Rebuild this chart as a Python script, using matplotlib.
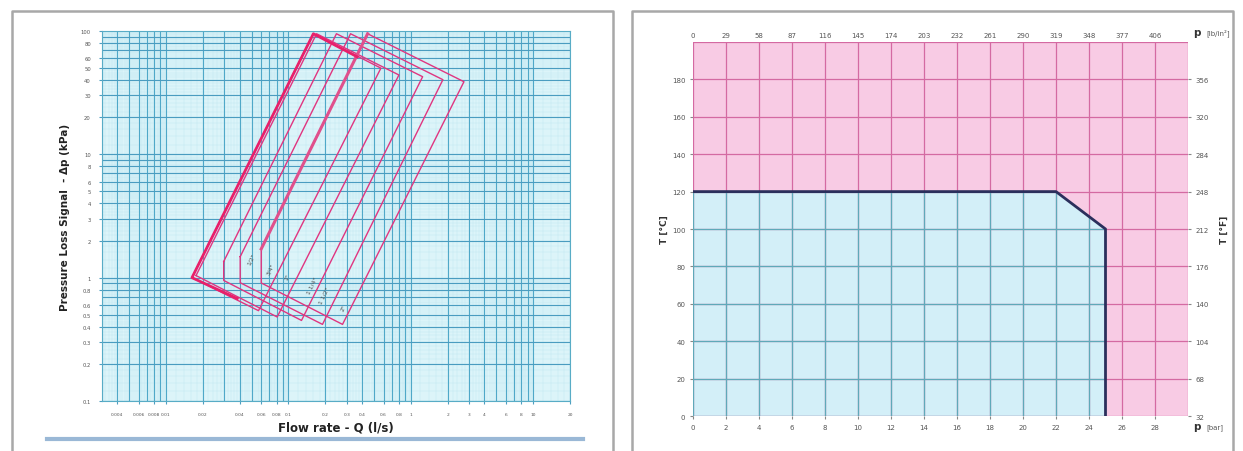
import numpy as np
import matplotlib.pyplot as plt
from matplotlib.lines import Line2D
from matplotlib.patches import Polygon

# ====== data: left chart (flow rate vs pressure loss, log-log) ======
q_ticks = [0.004, 0.006, 0.008, 0.01, 0.02, 0.04, 0.06, 0.08, 0.1, 0.2, 0.3, 0.4,
           0.6, 0.8, 1, 2, 3, 4, 6, 8, 10, 20]
q_labels = ['0.004', '0.006', '0.008', '0.01', '0.02', '0.04', '0.06', '0.08', '0.1',
            '0.2', '0.3', '0.4', '0.6', '0.8', '1', '2', '3', '4', '6', '8', '10', '20']
dp_ticks = [0.1, 0.2, 0.3, 0.4, 0.5, 0.6, 0.8, 1, 2, 3, 4, 5, 6, 8, 10, 20, 30, 40,
            50, 60, 80, 100]
dp_labels = ['0.1', '0.2', '0.3', '0.4', '0.5', '0.6', '0.8', '1', '2', '3', '4', '5',
             '6', '8', '10', '20', '30', '40', '50', '60', '80', '100']

# operating envelopes (Q l/s, dp kPa), one outline per valve size
env_a_q = [0.0163, 0.160, 0.57, 0.057, 0.0163]
env_a_dp = [1.0, 95, 50, 0.54, 1.0]
# heavier traced part of the smallest envelope
env_a_bold_q = [0.0382, 0.0163, 0.160, 0.366]
env_a_bold_dp = [0.677, 1.0, 95, 61.7]
env_b_q = [0.0176, 0.170, 0.80, 0.081, 0.0176]
env_b_dp = [1.04, 95, 44, 0.48, 1.04]
env_c_q = [0.0296, 0.247, 1.25, 0.128, 0.0296, 0.0296]
env_c_dp = [1.35, 95, 42.6, 0.45, 0.95, 1.35]
env_d_q = [0.0404, 0.322, 1.83, 0.190, 0.0404, 0.0404]
env_d_dp = [1.48, 95, 40.3, 0.418, 0.91, 1.48]
env_e_q = [0.060, 0.444, 2.72, 0.277, 0.060, 0.060]
env_e_dp = [1.71, 95, 38.8, 0.418, 0.906, 1.71]

size_names = ['1/2"', '3/4"', '1"', '1 1/4"', '1 1/2"', '2"']
size_q = [0.050, 0.071, 0.098, 0.156, 0.195, 0.284]
size_dp = [1.42, 1.18, 1.02, 0.867, 0.72, 0.58]

# ====== data: right chart (temperature vs pressure) ======
p_bar = [0, 22, 25, 25]
t_limit = [120, 120, 100, 0]
bar_ticks = [0, 2, 4, 6, 8, 10, 12, 14, 16, 18, 20, 22, 24, 26, 28]
psi_labels = ['0', '29', '58', '87', '116', '145', '174', '203', '232', '261', '290',
              '319', '348', '377', '406']
t_c_ticks = [0, 20, 40, 60, 80, 100, 120, 140, 160, 180]
t_f_labels = ['32', '68', '104', '140', '176', '212', '248', '284', '320', '356']

pink = '#f8cbe4'
blue = '#d3eff8'
grid_pink = '#d46aa2'
grid_teal = '#5fa9b9'
env_color = '#e03580'

fig = plt.figure(figsize=(12.43, 4.52), dpi=100)
W, H = 1243, 452

def box(x0, y0, x1, y1):
    return [x0 / W, 1 - y1 / H, (x1 - x0) / W, (y1 - y0) / H]

# panel frames
for xs, ys in [([12, 12, 613, 613], [452, 12, 12, 452]),
               ([632, 632, 1233, 1233], [452, 12, 12, 452])]:
    fig.add_artist(Line2D([x / W for x in xs], [1 - y / H for y in ys],
                          color='#a8a8a8', lw=1.8))
fig.add_artist(Line2D([47 / W, 583 / W], [1 - 440 / H] * 2, color='#9ab8d6', lw=3))

# ---------------- left chart ----------------
ax = fig.add_axes(box(102, 32, 570, 402))
ax.set_xscale('log')
ax.set_yscale('log')
ax.set_xlim(0.003, 20)
ax.set_ylim(0.1, 100)
ax.set_facecolor('#dcf4f9')

decades = [0.001, 0.01, 0.1, 1, 10]
fine = [d * m for d in decades for m in np.arange(1.0, 10.0, 0.2)]
for v in fine:
    ax.axvline(v, color='#c2e8f1', lw=0.35, zorder=0)
for v in [d * m for d in [0.1, 1, 10] for m in np.arange(1.0, 10.0, 0.2)]:
    ax.axhline(v, color='#c2e8f1', lw=0.35, zorder=0)
for v in [d * m for d in decades for m in range(1, 10)]:
    ax.axvline(v, color='#4fa8c8', lw=0.8, zorder=1)
for v in [d * m for d in [0.1, 1, 10] for m in range(1, 10)]:
    ax.axhline(v, color='#4a9cc0', lw=0.8, zorder=1)

ax.plot(env_a_q, env_a_dp, color=env_color, lw=1.0, zorder=3)
ax.plot(env_a_bold_q, env_a_bold_dp, color='#e8206a', lw=2.0, zorder=4)
ax.plot(env_b_q, env_b_dp, color=env_color, lw=1.0, zorder=3)
ax.plot(env_c_q, env_c_dp, color=env_color, lw=1.0, zorder=3)
ax.plot(env_d_q, env_d_dp, color=env_color, lw=1.0, zorder=3)
ax.plot(env_e_q, env_e_dp, color=env_color, lw=1.0, zorder=3)
ax.plot(env_e_q[:2], env_e_dp[:2], color='#e0508c', lw=2.2, zorder=3)

for name, q, d in zip(size_names, size_q, size_dp):
    ax.text(q, d, name, rotation=64, fontsize=4.3, color='#555555',
            ha='center', va='center', zorder=5)

ax.set_xticks(q_ticks)
ax.set_xticklabels(q_labels)
ax.set_yticks(dp_ticks)
ax.set_yticklabels(dp_labels)
ax.minorticks_off()
ax.tick_params(labelsize=3.8, length=2, color='#4e9fc0', labelcolor='#555555', pad=6)
ax.tick_params(axis='x', labelsize=3.2)
for s in ax.spines.values():
    s.set_color('#58acc6')
ax.set_xlabel('Flow rate - Q (l/s)', fontsize=8.5, fontweight='bold', labelpad=3,
              color='#222222')
ax.set_ylabel('Pressure Loss Signal  - Δp (kPa)', fontsize=7.5, fontweight='bold',
              labelpad=8, color='#222222')

# ---------------- right chart ----------------
bx = fig.add_axes(box(693, 43, 1188, 417))
bx.set_xlim(0, 30)
bx.set_ylim(0, 200)
bx.set_facecolor(pink)
safe = Polygon([(0, 0)] + list(zip(p_bar, t_limit)), closed=True, facecolor=blue,
               edgecolor='none', zorder=1)
bx.add_patch(safe)

for v in range(0, 31, 2):
    bx.axvline(v, color=grid_pink, lw=0.9, zorder=2)
    ln = bx.axvline(v, color=grid_teal, lw=0.9, zorder=3)
    ln.set_clip_path(safe)
for v in range(0, 201, 20):
    bx.axhline(v, color=grid_pink, lw=0.9, zorder=2)
    ln = bx.axhline(v, color=grid_teal, lw=0.9, zorder=3)
    ln.set_clip_path(safe)

bx.plot(p_bar, t_limit, color='#2b2f5c', lw=2.0, zorder=4)

for s in bx.spines.values():
    s.set_visible(False)
bx.set_xticks(bar_ticks)
bx.set_yticks(t_c_ticks)
bx.tick_params(labelsize=5, length=2, color='#888888', labelcolor='#555555')
bx.text(30.3, -5.5, 'p', fontsize=7.5, fontweight='bold', color='#333333',
        ha='left', va='center')
bx.text(31.1, -5.5, '[bar]', fontsize=5, color='#555555', ha='left', va='center')
bx.set_ylabel('T [°C]', fontsize=6.5, fontweight='bold', labelpad=2, color='#333333')

top = bx.twiny()
top.set_xlim(0, 30)
top.set_xticks(bar_ticks)
top.set_xticklabels(psi_labels)
top.tick_params(labelsize=5, length=0, labelcolor='#555555', pad=3)
for s in top.spines.values():
    s.set_visible(False)
bx.text(30.3, 205.5, 'p', fontsize=7.5, fontweight='bold', color='#333333',
        ha='left', va='center')
bx.text(31.1, 205.5, '[lb/in²]', fontsize=5, color='#555555', ha='left', va='center')

right = bx.twinx()
right.set_ylim(0, 200)
right.set_yticks(t_c_ticks)
right.set_yticklabels(t_f_labels)
right.tick_params(labelsize=5, length=2, color='#888888', labelcolor='#555555')
for s in right.spines.values():
    s.set_visible(False)
right.set_ylabel('T [°F]', fontsize=6.5, fontweight='bold', labelpad=8, color='#333333')

fig.savefig('out.png', dpi=100, facecolor='white')
